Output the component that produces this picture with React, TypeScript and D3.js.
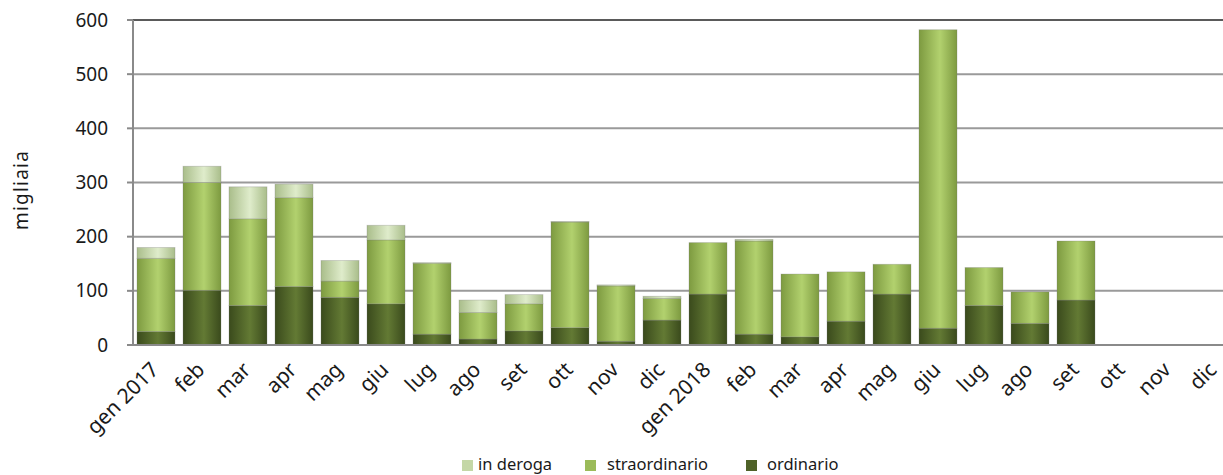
import { useEffect, useRef } from 'react';
import * as d3 from 'd3';

const months = [
  'gen 2017', 'feb', 'mar', 'apr', 'mag', 'giu', 'lug', 'ago', 'set', 'ott', 'nov', 'dic',
  'gen 2018', 'feb', 'mar', 'apr', 'mag', 'giu', 'lug', 'ago', 'set', 'ott', 'nov', 'dic',
];
const ordinario = [25, 101, 73, 108, 88, 76, 20, 11, 26, 32, 7, 46, 94, 20, 15, 44, 94, 31, 73, 40, 83, 0, 0, 0];
const straordinario = [135, 199, 160, 164, 30, 118, 131, 49, 50, 195, 102, 40, 95, 172, 116, 91, 55, 551, 70, 58, 109, 0, 0, 0];
const inDeroga = [20, 30, 59, 25, 38, 27, 1, 23, 17, 1, 2, 4, 0, 3, 0, 0, 0, 0, 0, 0, 0, 0, 0, 0];
const yTicks = [0, 100, 200, 300, 400, 500, 600];

const seriesKeys = ['ordinario', 'straordinario', 'deroga'];
const seriesColors: { [k: string]: [string, string, string] } = {
  ordinario: ['#3a4a1c', '#637a34', '#3a4a1c'],
  straordinario: ['#7d9a40', '#b2d16e', '#7d9a40'],
  deroga: ['#a9bd8a', '#dfeccb', '#a9bd8a'],
};
const legendItems = [
  { key: 'deroga', label: 'in deroga', color: '#c4d7a6' },
  { key: 'straordinario', label: 'straordinario', color: '#9bbb59' },
  { key: 'ordinario', label: 'ordinario', color: '#4f6228' },
];

const W = 1223;
const H = 475;

const App = () => {
  const svgRef = useRef<SVGSVGElement>(null);

  useEffect(() => {
    if (!svgRef.current) return;
    const svg = d3.select(svgRef.current);
    svg.selectAll('*').remove();

    const left = 133;
    const top = 20;
    const bottom = 345;
    const step = 46;
    const font = '"Noto Sans", "Open Sans", sans-serif';

    const rows = months.map((m, i) => ({
      idx: String(i),
      ordinario: ordinario[i],
      straordinario: straordinario[i],
      deroga: inDeroga[i],
    }));

    const x = d3
      .scaleBand()
      .domain(rows.map(d => d.idx))
      .range([left, left + step * months.length])
      .paddingInner(0.174)
      .paddingOuter(0.087);

    const y = d3.scaleLinear().domain([0, 600]).range([bottom, top]);

    // gradients for the cylinder look
    const defs = svg.append('defs');
    seriesKeys.forEach(k => {
      const g = defs
        .append('linearGradient')
        .attr('id', `grad-${k}`)
        .attr('x1', '0%')
        .attr('x2', '100%')
        .attr('y1', '0%')
        .attr('y2', '0%');
      const c = seriesColors[k];
      g.append('stop').attr('offset', '0%').attr('stop-color', c[0]);
      g.append('stop').attr('offset', '55%').attr('stop-color', c[1]);
      g.append('stop').attr('offset', '100%').attr('stop-color', c[2]);
    });

    // gridlines
    svg
      .append('g')
      .selectAll('line')
      .data(yTicks.filter(t => t > 0))
      .enter()
      .append('line')
      .attr('x1', left)
      .attr('x2', W)
      .attr('y1', d => y(d))
      .attr('y2', d => y(d))
      .attr('stroke', d => (d === 600 ? '#5a5a5a' : '#9a9a9a'))
      .attr('stroke-width', 2);

    // stacked bars
    const stack = d3.stack<any>().keys(seriesKeys);
    const stacked = stack(rows);

    svg
      .append('g')
      .selectAll('g')
      .data(stacked)
      .enter()
      .append('g')
      .attr('fill', d => `url(#grad-${d.key})`)
      .selectAll('rect')
      .data(d => d.filter(p => p[1] - p[0] > 0))
      .enter()
      .append('rect')
      .attr('x', d => x(d.data.idx) as number)
      .attr('width', x.bandwidth())
      .attr('y', d => y(d[1]))
      .attr('height', d => y(d[0]) - y(d[1]))
      .attr('stroke', 'rgba(120,120,120,0.35)')
      .attr('stroke-width', 0.8);

    // axes
    svg
      .append('line')
      .attr('x1', left)
      .attr('x2', left)
      .attr('y1', top)
      .attr('y2', bottom)
      .attr('stroke', '#8a8a8a')
      .attr('stroke-width', 2);
    svg
      .append('line')
      .attr('x1', left)
      .attr('x2', W)
      .attr('y1', bottom)
      .attr('y2', bottom)
      .attr('stroke', '#8a8a8a')
      .attr('stroke-width', 2);

    const yAxis = svg.append('g');
    yAxis
      .selectAll('line')
      .data(yTicks)
      .enter()
      .append('line')
      .attr('x1', left - 6)
      .attr('x2', left)
      .attr('y1', d => y(d))
      .attr('y2', d => y(d))
      .attr('stroke', '#8a8a8a')
      .attr('stroke-width', 2);
    yAxis
      .selectAll('text')
      .data(yTicks)
      .enter()
      .append('text')
      .attr('x', 108)
      .attr('y', d => y(d))
      .attr('dy', '0.35em')
      .attr('text-anchor', 'end')
      .attr('font-family', font)
      .attr('font-size', 19)
      .attr('fill', '#1a1a1a')
      .text(d => d);

    // x labels
    svg
      .append('g')
      .selectAll('text')
      .data(rows)
      .enter()
      .append('text')
      .attr('transform', d => {
        const cx = (x(d.idx) as number) + x.bandwidth() / 2 + 4;
        return `translate(${cx},${bottom + 26}) rotate(-45)`;
      })
      .attr('text-anchor', 'end')
      .attr('font-family', font)
      .attr('font-size', 21)
      .attr('fill', '#1a1a1a')
      .text((d, i) => months[i]);

    // y label
    svg
      .append('text')
      .attr('transform', 'translate(28,190) rotate(-90)')
      .attr('text-anchor', 'middle')
      .attr('font-family', font)
      .attr('font-size', 19)
      .attr('letter-spacing', 1.2)
      .attr('fill', '#1a1a1a')
      .text('migliaia');

    // legend
    const legendX = [462, 585, 746];
    const legendTextX = [478, 607, 767];
    const legend = svg.append('g');
    legendItems.forEach((it, i) => {
      legend
        .append('rect')
        .attr('x', legendX[i])
        .attr('y', 460)
        .attr('width', 11)
        .attr('height', 11)
        .attr('fill', it.color);
      legend
        .append('text')
        .attr('x', legendTextX[i])
        .attr('y', 464.5)
        .attr('dy', '0.35em')
        .attr('font-family', font)
        .attr('font-size', 16.5)
        .attr('fill', '#1a1a1a')
        .text(it.label);
    });
  }, []);

  return (
    <svg
      ref={svgRef}
      width={W}
      height={H}
      style={{ position: 'absolute', left: 0, top: 0, display: 'block', background: '#fff' }}
    />
  );
};

export default App;
